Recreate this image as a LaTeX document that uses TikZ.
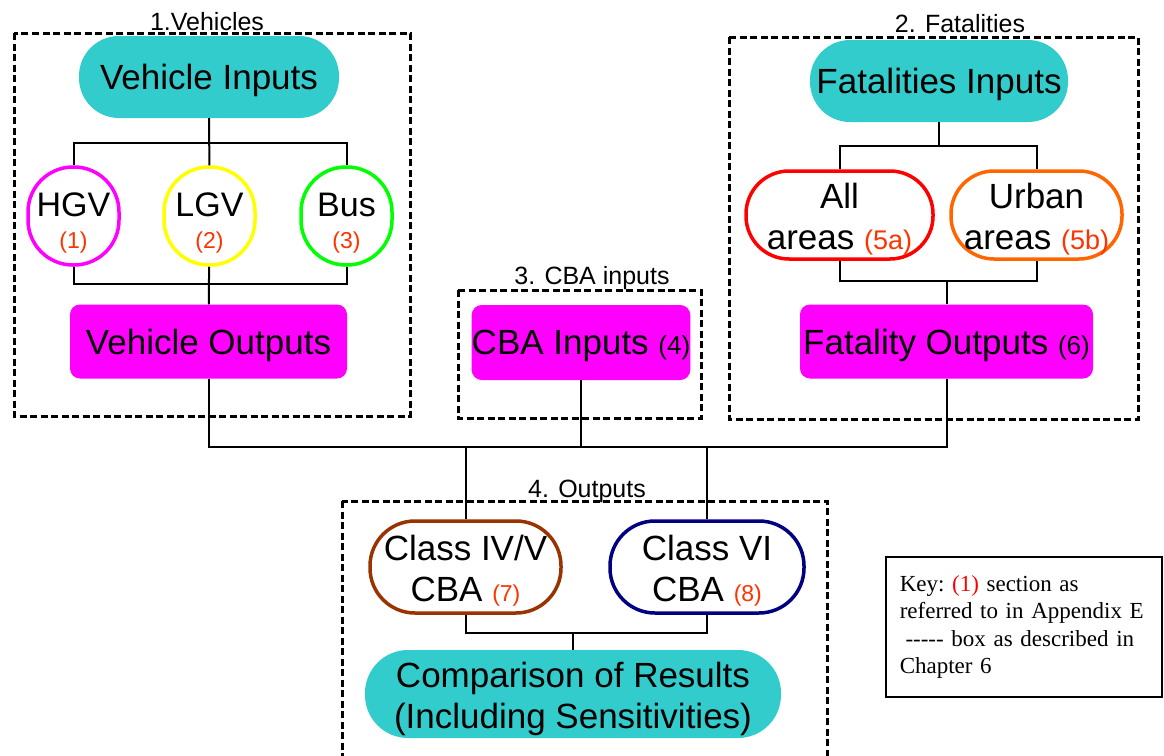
\documentclass[tikz,border=0pt]{standalone}
\usepackage{fontspec}
\setmainfont{Liberation Sans}
\newfontfamily\keyfont{Liberation Serif}
\usepackage{tikz}
\usetikzlibrary{positioning, calc}
\definecolor{inputcolor}{RGB}{51, 204, 204}
\definecolor{outputcolor}{RGB}{255, 0, 255}
\definecolor{hgvcolor}{RGB}{255, 0, 255}
\definecolor{lgvcolor}{RGB}{255, 255, 0}
\definecolor{buscolor}{RGB}{0, 255, 0}
\definecolor{allcolor}{RGB}{255, 0, 0}
\definecolor{urbancolor}{RGB}{255, 102, 0}
\definecolor{classfourcolor}{RGB}{153, 51, 0}
\definecolor{classsixcolor}{RGB}{0, 0, 128}
\definecolor{secred}{RGB}{255, 51, 0}
\newcommand{\bigfont}{\fontsize{35}{41}\selectfont}
\newcommand{\secno}[2][23]{{\fontsize{#1}{#1}\selectfont\color{secred}(#2)}}

\begin{document}
\begin{tikzpicture}[
    x=1pt, y=-1pt,
    group/.style={draw, line width=3pt, dash pattern=on 7pt off 3.5pt},
    grouplabel/.style={anchor=base, font=\fontsize{25}{25}\selectfont},
    inbox/.style={fill=inputcolor, rounded corners=40pt, minimum width=260pt, minimum height=82pt, inner sep=0pt, align=center, text depth=0pt, font=\bigfont},
    outbox/.style={fill=outputcolor, rounded corners=10pt, minimum height=74pt, inner sep=0pt, text depth=0pt, font=\bigfont},
    vehicle/.style={draw, line width=3.5pt, rounded corners=45pt, minimum width=91pt, minimum height=98pt, inner sep=0pt, align=center, text height=65pt, text depth=0pt, font=\fontsize{34}{38}\selectfont},
    pill/.style={draw, line width=3.5pt, rounded corners=43pt, minimum height=88pt, inner sep=0pt, align=center, text height=69.5pt, text depth=0pt, font=\bigfont},
    link/.style={line width=2pt}
]
    \useasboundingbox (0,0) rectangle (1164,755);

    % Group boxes
    \draw[group] (14,33) rectangle (410,416);
    \node[grouplabel] at (207,30) {1.Vehicles};
    \draw[group] (729,37) rectangle (1138,419);
    \node[grouplabel] at (960,32) {2. Fatalities};
    \draw[group] (458,290) rectangle (701,418);
    \node[grouplabel] at (592,284) {3. CBA inputs};
    \draw[group] (342,501) rectangle (827,780);
    \node[grouplabel] at (587,497) {4. Outputs};

    % Vehicles
    \node[inbox] (vin) at (209,77) {Vehicle Inputs};
    \node[vehicle, draw=hgvcolor] (hgv) at (73.5,216) {HGV\\[-6pt]\secno{1}};
    \node[vehicle, draw=lgvcolor] (lgv) at (209.5,216) {LGV\\[-6pt]\secno{2}};
    \node[vehicle, draw=buscolor] (bus) at (346.5,216) {Bus\\[-6pt]\secno{3}};
    \node[outbox, minimum width=277pt] (vout) at (208.5,341.5) {Vehicle Outputs};

    % Fatalities
    \node[inbox, minimum width=258pt] (fin) at (939,81) {Fatalities Inputs};
    \node[pill, draw=allcolor, minimum width=187pt] (all) at (839.5,215) {All\\areas \secno[27]{5a}};
    \node[pill, draw=urbancolor, minimum width=171pt] (urban) at (1036.5,215) {Urban\\areas \secno[27]{5b}};
    \node[outbox, minimum width=293pt] (fout) at (946.5,341.5) {Fatality Outputs {\fontsize{26}{26}\selectfont(6)}};

    % CBA inputs
    \node[outbox, minimum width=216pt, minimum height=75pt] (cba) at (581,342.5) {CBA Inputs {\fontsize{26}{26}\selectfont(4)}};

    % Outputs
    \node[pill, draw=classfourcolor, minimum width=191pt, minimum height=92pt, rounded corners=45pt] (cfour) at (465.5,567) {Class IV/V\\CBA \secno{7}};
    \node[pill, draw=classsixcolor, minimum width=194pt, minimum height=92pt, rounded corners=45pt] (csix) at (707,567) {Class VI\\CBA \secno{8}};
    \node[inbox, minimum width=416pt, minimum height=88pt, rounded corners=43pt, text height=69pt] (comp) at (573,694) {Comparison of Results\\(Including Sensitivities)};

    % Key
    \node[draw, line width=1.5pt, anchor=north west, minimum width=276pt, minimum height=140pt, text width=248pt, inner sep=14pt, align=left, font=\keyfont\fontsize{23}{27.5}\selectfont] (key) at (885,556)
        {Key:\ {\color{red}(1)} section as\\referred to in Appendix E\\\hspace*{0.25em}-{}-{}-{}-{}- box as described in\\Chapter 6};

    % Bus points
    \coordinate (vtop) at (209,143);
    \coordinate (vbot) at (209,284);
    \coordinate (ftop) at (939,146);
    \coordinate (fbot) at (946.5,281);
    \coordinate (mainbus) at (581,447);
    \coordinate (obot) at (573,633);

    % Connections
    \draw[link] (vin) -- (lgv);
    \draw[link] (hgv.north) |- (vtop) -| (bus.north);
    \draw[link] (hgv.south) |- (vbot) -| (bus.south);
    \draw[link] (lgv) -- (vout);
    \draw[link] (fin) -- (ftop);
    \draw[link] (all.north) |- (ftop) -| (urban.north);
    \draw[link] (all.south) |- (fbot) -| (urban.south);
    \draw[link] (fbot) -- (fout);
    \draw[link] (vout.south) |- (mainbus) -| (fout.south);
    \draw[link] (cba) -- (mainbus);
    \draw[link] (cfour.north) -- (cfour.north |- mainbus);
    \draw[link] (csix.north) -- (csix.north |- mainbus);
    \draw[link] (cfour.south) |- (obot) -| (csix.south);
    \draw[link] (obot) -- (comp);
\end{tikzpicture}
\end{document}
